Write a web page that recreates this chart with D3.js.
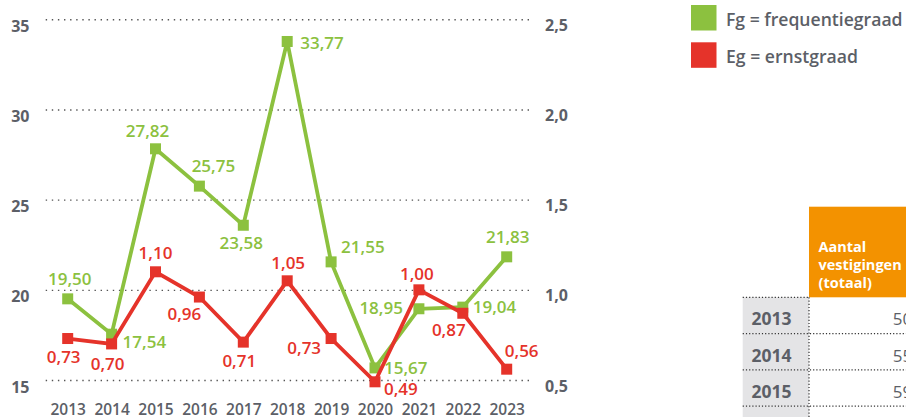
<!DOCTYPE html>
<html>
<head>
<meta charset="utf-8">
<script src="https://cdn.jsdelivr.net/npm/d3@7"></script>
<style>
  body { margin: 0; background: #fff; }
  svg { display: block; font-family: "Open Sans", "Noto Sans", sans-serif; }
</style>
</head>
<body>
<svg id="chart" width="906" height="417"></svg>
<script>
// data
const years = [2013, 2014, 2015, 2016, 2017, 2018, 2019, 2020, 2021, 2022, 2023];
const fgValues = [19.50, 17.54, 27.82, 25.75, 23.58, 33.77, 21.55, 15.67, 18.95, 19.04, 21.83];
const egValues = [0.73, 0.70, 1.10, 0.96, 0.71, 1.05, 0.73, 0.49, 1.00, 0.87, 0.56];
const leftTicks = [15, 20, 25, 30, 35];
const rightTicks = [0.5, 1.0, 1.5, 2.0, 2.5];
const legendItems = ["Fg = frequentiegraad", "Eg = ernstgraad"];
const tableHeader = ["Aantal", "vestigingen", "(totaal)"];
const tableYears = [2013, 2014, 2015, 2016];
const tableValues = ["50", "55", "59", ""];

// where each value label sits relative to its marker
const fgLabelPos = [
  [2, -14, "middle"], [11, 14, "start"], [-8, -12, "middle"], [14, -14, "middle"],
  [-2, 24, "middle"], [13, 8, "start"], [10, -9, "start"], [9, 6, "start"],
  [-16, 5, "end"], [10, 6, "start"], [1, -14, "middle"]
];
const egLabelPos = [
  [-4, 24, "middle"], [-4, 26, "middle"], [0, -13, "middle"], [-15, 23, "middle"],
  [-4, 25, "middle"], [1, -12, "middle"], [-10, 15, "end"], [9, 13, "start"],
  [-2, -10, "middle"], [-14, 23, "middle"], [15, -12, "middle"]
];

const green = "#8cc13f";
const red = "#e5332a";
const grey = "#5c5f67";
const orange = "#f39200";

const nl = d3.formatLocale({decimal: ",", thousands: ".", grouping: [3], currency: ["€", ""]});
const fmt2 = nl.format(".2f");
const fmt1 = nl.format(".1f");

const svg = d3.select("#chart");

const x = d3.scalePoint().domain(years).range([67.7, 506.7]);
const yL = d3.scaleLinear().domain([15, 35]).range([380, 19.3]);
const yR = d3.scaleLinear().domain([0.5, 2.5]).range([380, 19.3]);

// dotted gridlines
svg.append("g")
  .attr("transform", "translate(45.7,0)")
  .call(d3.axisRight(yL).tickValues(leftTicks).tickSize(484).tickFormat(""))
  .call(g => g.select(".domain").remove())
  .call(g => g.selectAll("line")
    .attr("stroke", "#555")
    .attr("stroke-width", 1.4)
    .attr("stroke-dasharray", "1.4 4.7"));

// left axis labels
svg.append("g")
  .attr("transform", "translate(29.5,0)")
  .call(d3.axisLeft(yL).tickValues(leftTicks).tickSize(0).tickPadding(0))
  .call(g => g.select(".domain").remove())
  .call(g => g.selectAll("text")
    .attr("dy", 12)
    .attr("fill", grey)
    .attr("font-size", 16)
    .attr("font-weight", 700)
    .attr("font-family", "Open Sans"));

// right axis labels
svg.append("g")
  .attr("transform", "translate(545,0)")
  .call(d3.axisRight(yR).tickValues(rightTicks).tickSize(0).tickPadding(0).tickFormat(fmt1))
  .call(g => g.select(".domain").remove())
  .call(g => g.selectAll("text")
    .attr("dy", 11)
    .attr("fill", grey)
    .attr("font-size", 16)
    .attr("font-weight", 700)
    .attr("font-family", "Open Sans"));

// year labels
svg.append("g")
  .attr("transform", "translate(0,415)")
  .call(d3.axisBottom(x).tickSize(0).tickPadding(0).tickFormat(d => d))
  .call(g => g.select(".domain").remove())
  .call(g => g.selectAll("text")
    .attr("y", 0)
    .attr("dy", 0)
    .attr("fill", grey)
    .attr("font-size", 15.5)
    .attr("font-weight", 600)
    .attr("font-family", "Open Sans"));

function drawSeries(values, yScale, color, labelPos) {
  const pts = values.map((v, i) => ({year: years[i], v: v, pos: labelPos[i]}));
  const line = d3.line().x(d => x(d.year)).y(d => yScale(d.v));

  const g = svg.append("g");
  g.append("path")
    .attr("d", line(pts))
    .attr("fill", "none")
    .attr("stroke", color)
    .attr("stroke-width", 3.8)
    .attr("stroke-linejoin", "miter");

  g.selectAll("rect")
    .data(pts)
    .enter().append("rect")
      .attr("x", d => x(d.year) - 5.5)
      .attr("y", d => yScale(d.v) - 5.5)
      .attr("width", 11)
      .attr("height", 11)
      .attr("fill", color);

  return pts;
}

function drawLabels(pts, yScale, color) {
  svg.append("g")
    .selectAll("text")
    .data(pts)
    .enter().append("text")
      .attr("x", d => x(d.year) + d.pos[0])
      .attr("y", d => yScale(d.v) + d.pos[1])
      .attr("text-anchor", d => d.pos[2])
      .attr("fill", color)
      .attr("font-size", 17)
      .attr("font-weight", 600)
      .text(d => fmt2(d.v));
}

const fgPts = drawSeries(fgValues, yL, green, fgLabelPos);
const egPts = drawSeries(egValues, yR, red, egLabelPos);
drawLabels(fgPts, yL, green);
drawLabels(egPts, yR, red);

// legend
const legend = svg.append("g")
  .selectAll("g")
  .data(legendItems)
  .enter().append("g")
    .attr("transform", (d, i) => `translate(691,${5 + i * 37.3})`);
legend.append("rect")
  .attr("width", 25.5)
  .attr("height", 25.5)
  .attr("fill", (d, i) => i === 0 ? green : red);
legend.append("text")
  .attr("x", 35)
  .attr("y", 21)
  .attr("fill", grey)
  .attr("font-size", 17.6)
  .attr("font-weight", 600)
  .text(d => d);

// table (cut off at the right edge)
const tbl = svg.append("g");
const rowH = 36.3;
const tTop = 297.3;
tbl.append("rect")
  .attr("x", 809).attr("y", 206.7)
  .attr("width", 120).attr("height", tTop - 206.7)
  .attr("fill", orange);
tbl.selectAll(".hdr")
  .data(tableHeader)
  .enter().append("text")
    .attr("class", "hdr")
    .attr("x", 818.5)
    .attr("y", (d, i) => 251.5 + i * 18)
    .attr("fill", "#fff")
    .attr("font-size", 14.5)
    .attr("font-weight", 700)
    .text(d => d);

const rows = tbl.selectAll(".row")
  .data(tableYears)
  .enter().append("g")
    .attr("class", "row")
    .attr("transform", (d, i) => `translate(0,${tTop + i * rowH})`);
rows.append("rect")
  .attr("x", 742.7).attr("y", 0)
  .attr("width", 809 - 742.7).attr("height", rowH)
  .attr("fill", "#e4e4e6");
rows.append("text")
  .attr("x", 751.5)
  .attr("y", 28)
  .attr("fill", grey)
  .attr("font-size", 17.5)
  .attr("font-weight", 700)
  .text(d => d);
rows.append("text")
  .attr("x", 892.7)
  .attr("y", 28)
  .attr("fill", grey)
  .attr("font-size", 17)
  .text((d, i) => tableValues[i]);

const dots = {stroke: "#333", width: 1.2, dash: "1.2 2"};
tbl.append("line")
  .attr("x1", 742.7).attr("x2", 809).attr("y1", tTop).attr("y2", tTop);
tbl.selectAll(".hline")
  .data(tableYears.slice(0, 3))
  .enter().append("line")
    .attr("class", "hline")
    .attr("x1", 742.7).attr("x2", 906)
    .attr("y1", (d, i) => tTop + (i + 1) * rowH)
    .attr("y2", (d, i) => tTop + (i + 1) * rowH);
tbl.append("line")
  .attr("x1", 809).attr("x2", 809).attr("y1", tTop).attr("y2", 417);
tbl.selectAll("line")
  .attr("stroke", dots.stroke)
  .attr("stroke-width", dots.width)
  .attr("stroke-dasharray", dots.dash);
</script>
</body>
</html>
